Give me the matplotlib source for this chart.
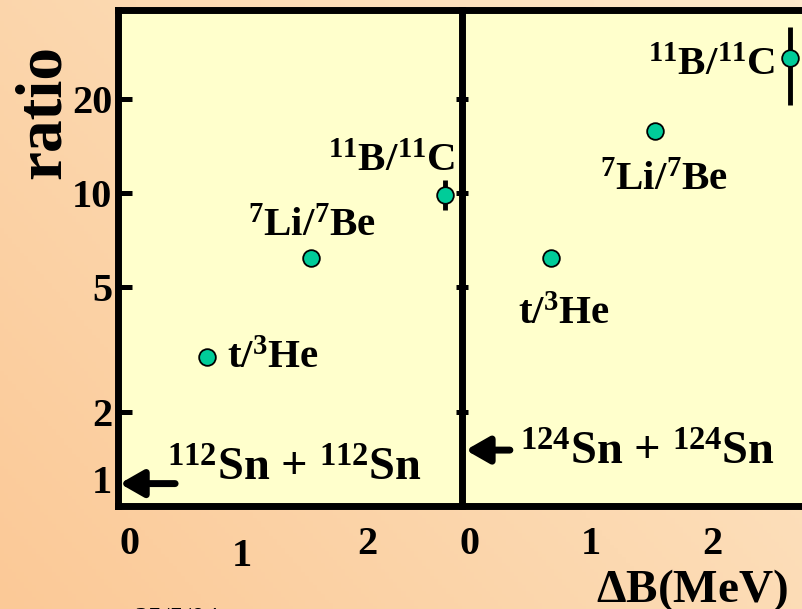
import numpy as np
import matplotlib
matplotlib.use("Agg")
import matplotlib.pyplot as plt
from matplotlib.colors import LinearSegmentedColormap
from matplotlib.transforms import offset_copy

plt.rcParams["font.family"] = ["Liberation Serif", "DejaVu Serif"]
plt.rcParams["font.weight"] = "bold"
plt.rcParams["mathtext.fontset"] = "custom"
plt.rcParams["mathtext.rm"] = "Liberation Serif:bold"
plt.rcParams["mathtext.bf"] = "Liberation Serif:bold"
plt.rcParams["mathtext.it"] = "Liberation Serif:bold"
plt.rcParams["mathtext.default"] = "bf"

# data
labels = [r"t/$^{3}$He", r"$^{7}$Li/$^{7}$Be", r"$^{11}$B/$^{11}$C"]
db_112 = [0.65, 1.52, 2.65]
ratio_112 = [3.0, 6.2, 9.9]
err_lo_112 = [0.0, 0.0, 1.05]
err_hi_112 = [0.0, 0.0, 1.1]
db_124 = [0.67, 1.53, 2.645]
ratio_124 = [6.2, 15.8, 27.1]
err_lo_124 = [0.0, 0.0, 8.0]
err_hi_124 = [0.0, 0.0, 7.0]
yticks = [2, 5, 10, 20]
xticks = [0, 1, 2]

fig = plt.figure(figsize=(8.03, 6.09), dpi=100)

# slide background gradient
bg = fig.add_axes([0, 0, 1, 1], zorder=-10)
gx, gy = np.meshgrid(np.linspace(0, 1, 200), np.linspace(0, 1, 200))
grad = 0.6 * gx + 0.4 * gy
cmap = LinearSegmentedColormap.from_list("slide", ["#FBC997", "#FDE9CB"])
bg.imshow(grad, cmap=cmap, aspect="auto", extent=[0, 1, 0, 1], origin="lower")
bg.axis("off")

face = "#FFFFCC"
green = "#00CC99"
ylim = (1.0, 38.6)

ax1 = fig.add_axes([0.147, 0.169, 0.428, 0.815])
ax2 = fig.add_axes([0.5753, 0.169, 0.447, 0.815])

for ax in (ax1, ax2):
    ax.set_facecolor(face)
    ax.set_yscale("log")
    ax.set_ylim(*ylim)
    ax.set_yticks(yticks)
    ax.yaxis.set_minor_locator(matplotlib.ticker.NullLocator())
    ax.set_xticks(xticks)
    ax.tick_params(axis="x", length=0, pad=14, labelsize=29)
    for s in ax.spines.values():
        s.set_linewidth(5)

ax1.set_xlim(-0.1, 2.79)
ax2.set_xlim(-0.066, 2.9)
ax1.spines["right"].set_visible(False)
ax1.set_yticklabels([str(t) for t in yticks])
ax1.tick_params(axis="y", direction="in", length=10, width=3.6, labelsize=29, pad=4)
ax2.tick_params(axis="y", direction="inout", length=9, width=3.6, labelleft=False)

# the "1" under the left panel sits a bit lower in the original
lbl = ax1.xaxis.get_major_ticks()[1].label1
lbl.set_transform(offset_copy(lbl.get_transform(), fig=fig, x=-5, y=-9, units="points"))

ax1.errorbar(db_112, ratio_112, yerr=[err_lo_112, err_hi_112], fmt="o", ms=12,
             mfc=green, mec="black", mew=1.3, ecolor="black", elinewidth=3.5,
             capsize=0, zorder=5, clip_on=False)
ax2.errorbar(db_124, ratio_124, yerr=[err_lo_124, err_hi_124], fmt="o", ms=12,
             mfc=green, mec="black", mew=1.3, ecolor="black", elinewidth=3.5,
             capsize=0, zorder=5, clip_on=False)

arrow = dict(arrowstyle="-|>,head_length=0.7,head_width=0.4", lw=5,
             color="black", mutation_scale=20, shrinkA=0, shrinkB=0)
fs = 29.5
ax1.text(0.82, 2.97, labels[0], fontsize=fs, ha="left", va="center")
ax1.text(1.53, 7.8, labels[1], fontsize=fs, ha="center", va="center")
ax1.text(2.2, 12.6, labels[2], fontsize=fs, ha="center", va="center")
ax1.text(0.31, 1.31, r"$^{112}$Sn + $^{112}$Sn", fontsize=33.5, ha="left", va="center")
ax1.annotate("", xy=(-0.085, 1.18), xytext=(0.38, 1.18), arrowprops=arrow)
ax1.text(-0.15, 1.18, "1", fontsize=29, ha="right", va="center")

ax2.text(0.40, 4.1, labels[0], fontsize=fs, ha="left", va="center")
ax2.text(1.6, 11.0, labels[1], fontsize=fs, ha="center", va="center")
ax2.text(2.52, 25.5, labels[2], fontsize=fs, ha="right", va="center")
ax2.text(0.41, 1.47, r"$^{124}$Sn + $^{124}$Sn", fontsize=33.5, ha="left", va="center")
ax2.annotate("", xy=(-0.035, 1.51), xytext=(0.33, 1.51), arrowprops=arrow)

fig.text(0.055, 0.816, "ratio", fontsize=47, rotation=90, ha="center", va="center")
fig.text(0.862, 0.031, r"$\Delta$B(MeV)", fontsize=34, ha="center", va="center")
fig.text(0.168, 0.004, "25/5/04", fontsize=20, fontweight="normal", ha="left", va="top")

fig.savefig("out.png", dpi=100)
